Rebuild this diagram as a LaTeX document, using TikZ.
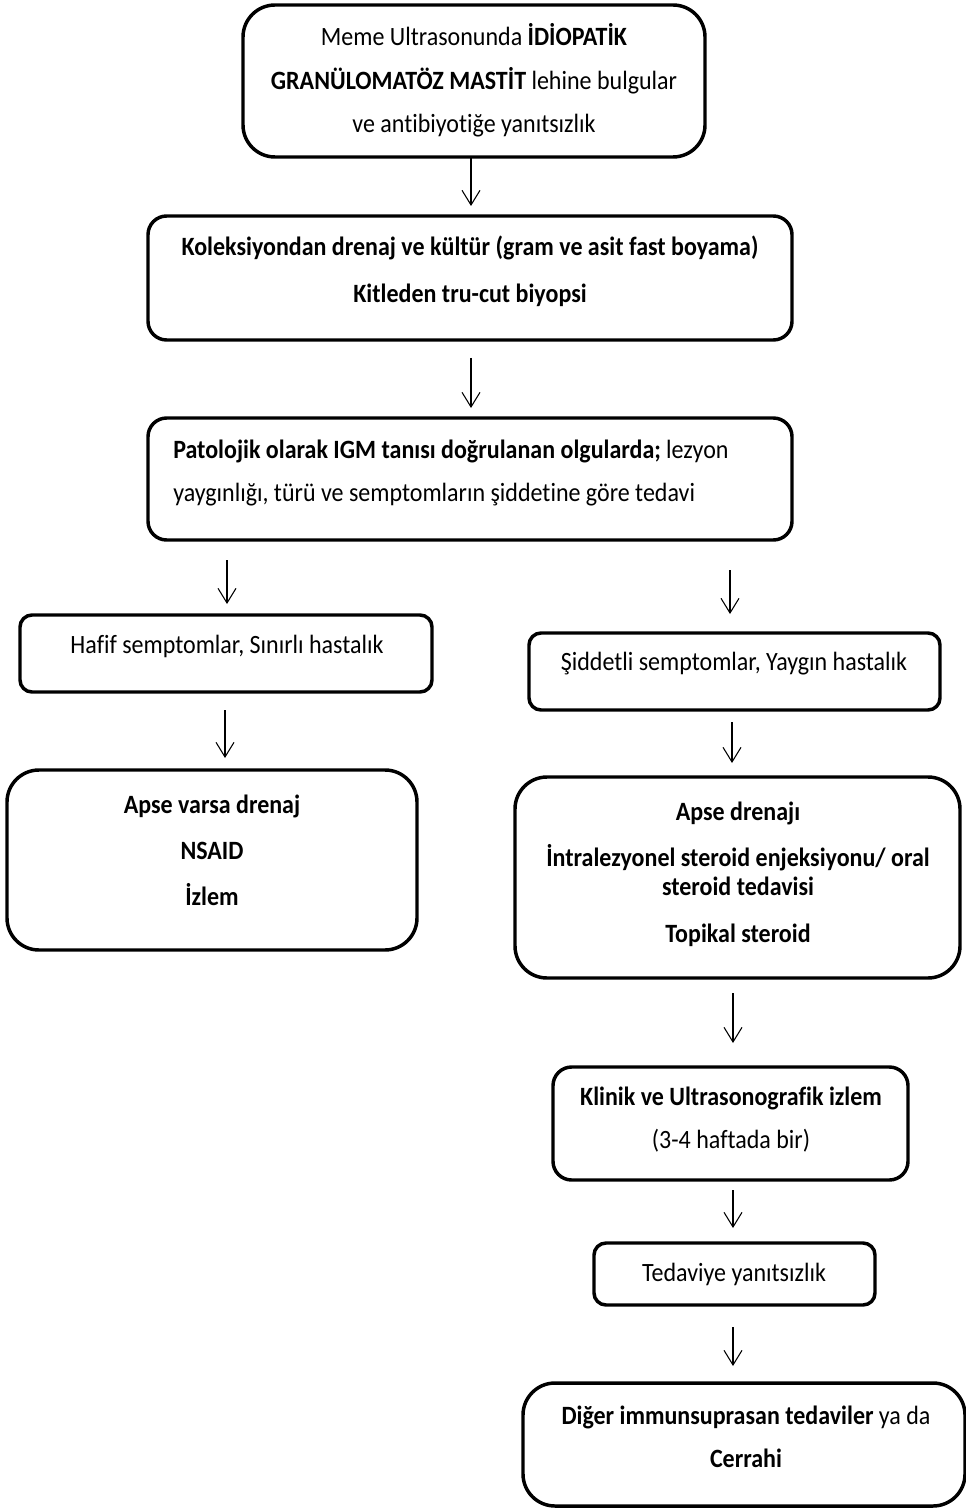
\documentclass[tikz,border=0pt]{standalone}
\usepackage{fontspec}
\setmainfont[Ligatures=NoCommon]{Carlito}
\usetikzlibrary{arrows.meta,fit}
\newcommand{\tl}[1]{\scalebox{1}[1.1]{#1}}
\tikzset{
  box/.style={draw, line width=2.6pt, inner sep=0pt},
  arr/.style={-{Straight Barb[length=11pt,width=13.5pt]}, line width=0.8pt},
  txt/.style={inner sep=0pt, anchor=base, font=\fontsize{18}{21}\selectfont},
  ltxt/.style={txt, anchor=base west}
}
\begin{document}
\begin{tikzpicture}[x=0.75pt,y=-0.75pt]
\useasboundingbox[fill=white] (0,0) rectangle (966,1508);
% boxes
\node[box, rounded corners=24pt, fit={(243,5) (705,157)}] (b1) {};
\node[box, rounded corners=14pt, fit={(148,216) (792,340)}] (b2) {};
\node[box, rounded corners=14pt, fit={(148,418) (792,540)}] (b3) {};
\node[box, rounded corners=9pt, fit={(20,615) (432,692)}] (b4) {};
\node[box, rounded corners=9pt, fit={(529,633) (940,710)}] (b5) {};
\node[box, rounded corners=24pt, fit={(7,770) (417,950)}] (b6) {};
\node[box, rounded corners=24pt, fit={(515,777) (960,978)}] (b7) {};
\node[box, rounded corners=14pt, fit={(553,1067) (908,1180)}] (b8) {};
\node[box, rounded corners=9pt, fit={(594,1243) (875,1305)}] (b9) {};
\node[box, rounded corners=24pt, fit={(523,1383) (965,1506)}] (b10) {};
% texts
\node[txt] (t1a) at (474,46) {\tl{Meme Ultrasonunda \textbf{İDİOPATİK}}};
\node[txt] (t1b) at (474,90) {\tl{\textbf{GRANÜLOMATÖZ MASTİT} lehine bulgular}};
\node[txt] (t1c) at (474,133) {\tl{ve antibiyotiğe yanıtsızlık}};
\node[txt] (t2a) at (470,256) {\tl{\textbf{Koleksiyondan drenaj ve kültür (gram ve asit fast boyama)}}};
\node[txt] (t2b) at (470,303) {\tl{\textbf{Kitleden tru-cut biyopsi}}};
\node[ltxt] (t3a) at (173,458) {\tl{\textbf{Patolojik olarak IGM tanısı doğrulanan olgularda;} lezyon}};
\node[ltxt] (t3b) at (173,501) {\tl{yaygınlığı, türü ve semptomların şiddetine göre tedavi}};
\node[txt] (t4) at (227,653) {\tl{Hafif semptomlar, Sınırlı hastalık}};
\node[txt] (t5) at (734,670) {\tl{Şiddetli semptomlar, Yaygın hastalık}};
\node[txt] (t6a) at (212,813) {\tl{\textbf{Apse varsa drenaj}}};
\node[txt] (t6b) at (212,859) {\tl{\textbf{NSAID}}};
\node[txt] (t6c) at (212,905) {\tl{\textbf{İzlem}}};
\node[txt] (t7a) at (738,820) {\tl{\textbf{Apse drenajı}}};
\node[txt] (t7b) at (738,866) {\tl{\textbf{İntralezyonel steroid enjeksiyonu/ oral}}};
\node[txt] (t7c) at (738,895) {\tl{\textbf{steroid tedavisi}}};
\node[txt] (t7d) at (738,942) {\tl{\textbf{Topikal steroid}}};
\node[txt] (t8a) at (731,1105) {\tl{\textbf{Klinik ve Ultrasonografik izlem}}};
\node[txt] (t8b) at (731,1148) {\tl{(3-4 haftada bir)}};
\node[txt] (t9) at (734,1281) {\tl{Tedaviye yanıtsızlık}};
\node[txt] (t10a) at (746,1424) {\tl{\textbf{Diğer immunsuprasan tedaviler} ya da}};
\node[txt] (t10b) at (746,1467) {\tl{\textbf{Cerrahi}}};
% arrow endpoints
\coordinate (a1s) at (471,158); \coordinate (a1e) at (471,206);
\coordinate (a2s) at (471,358); \coordinate (a2e) at (471,408);
\coordinate (a3s) at (227,560); \coordinate (a3e) at (227,604);
\coordinate (a4s) at (730,570); \coordinate (a4e) at (730,614);
\coordinate (a5s) at (225,710); \coordinate (a5e) at (225,758);
\coordinate (a6s) at (732,722); \coordinate (a6e) at (732,763);
\coordinate (a7s) at (733,993); \coordinate (a7e) at (733,1043);
\coordinate (a8s) at (733,1190); \coordinate (a8e) at (733,1228);
\coordinate (a9s) at (733,1327); \coordinate (a9e) at (733,1366);
\foreach \i in {1,...,9} { \draw[arr] (a\i s) -- (a\i e); }
\end{tikzpicture}
\end{document}
